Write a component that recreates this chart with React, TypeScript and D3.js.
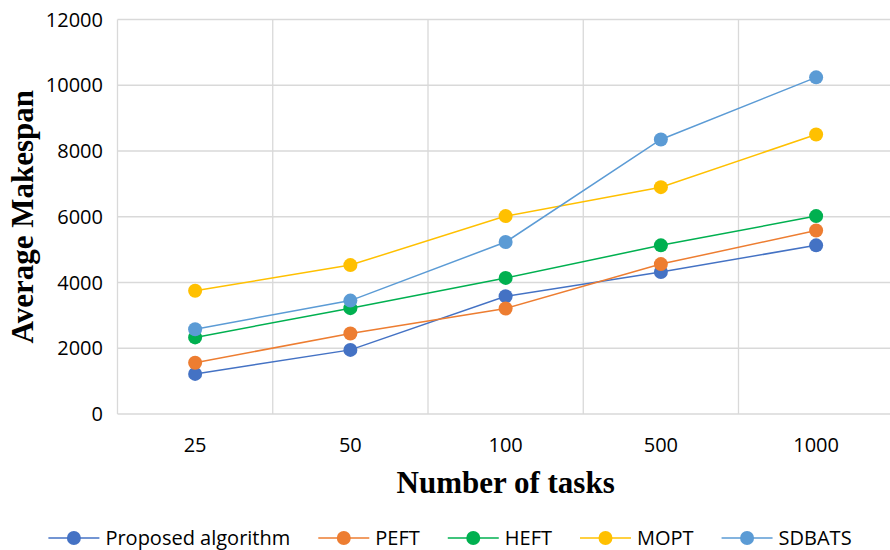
import React, { useEffect, useRef } from "react";
import * as d3 from "d3";

// Number of tasks per workload
const categories = ["25", "50", "100", "500", "1000"];

// Average makespan per algorithm
const proposed = [1220, 1950, 3580, 4320, 5130];
const peft = [1560, 2450, 3210, 4560, 5580];
const heft = [2330, 3220, 4140, 5130, 6020];
const mopt = [3750, 4530, 6020, 6900, 8500];
const sdbats = [2580, 3450, 5230, 8350, 10240];

const seriesNames = ["Proposed algorithm", "PEFT", "HEFT", "MOPT", "SDBATS"];
const seriesValues = [proposed, peft, heft, mopt, sdbats];
const seriesColors = ["#4472C4", "#ED7D31", "#00B050", "#FFC000", "#5B9BD5"];

const yTicks = [0, 2000, 4000, 6000, 8000, 10000, 12000];

const W = 890;
const H = 550;
const plot = { left: 117.5, right: 893.75, top: 19.5, bottom: 414 };
const sansFont = "'Open Sans', sans-serif";
const serifFont = "'Liberation Serif', 'Times New Roman', serif";
const markerR = 7;

export default function App() {
  const ref = useRef<SVGSVGElement | null>(null);

  useEffect(() => {
    const svg = d3.select(ref.current);
    svg.selectAll("*").remove();

    const x = d3
      .scaleBand<string>()
      .domain(categories)
      .range([plot.left, plot.right]);
    const cx = (c: string) => (x(c) as number) + x.bandwidth() / 2;
    const y = d3.scaleLinear().domain([0, 12000]).range([plot.bottom, plot.top]);

    const grid = svg.append("g");
    // horizontal gridlines
    grid
      .selectAll("line.h")
      .data(yTicks)
      .join("line")
      .attr("x1", plot.left)
      .attr("x2", plot.right)
      .attr("y1", (d) => y(d))
      .attr("y2", (d) => y(d))
      .attr("stroke", "#d9d9d9")
      .attr("stroke-width", 1.3);
    // vertical gridlines at category boundaries
    grid
      .selectAll("line.v")
      .data(categories)
      .join("line")
      .attr("x1", (d) => x(d) as number)
      .attr("x2", (d) => x(d) as number)
      .attr("y1", plot.top)
      .attr("y2", plot.bottom)
      .attr("stroke", "#d9d9d9")
      .attr("stroke-width", 1.3);

    // y tick labels
    svg
      .append("g")
      .selectAll("text")
      .data(yTicks)
      .join("text")
      .attr("x", 103)
      .attr("y", (d) => y(d) + 7)
      .attr("text-anchor", "end")
      .attr("font-family", sansFont)
      .attr("font-size", 20)
      .attr("fill", "#000")
      .text((d) => String(d));

    // x tick labels
    svg
      .append("g")
      .selectAll("text")
      .data(categories)
      .join("text")
      .attr("x", (d) => cx(d))
      .attr("y", 452)
      .attr("text-anchor", "middle")
      .attr("font-family", sansFont)
      .attr("font-size", 20)
      .attr("fill", "#000")
      .text((d) => d);

    // axis titles
    svg
      .append("text")
      .attr("x", (plot.left + plot.right) / 2)
      .attr("y", 493)
      .attr("text-anchor", "middle")
      .attr("font-family", serifFont)
      .attr("font-weight", "bold")
      .attr("font-size", 31)
      .text("Number of tasks");

    svg
      .append("text")
      .attr("transform", `translate(33,${(plot.top + plot.bottom) / 2}) rotate(-90)`)
      .attr("text-anchor", "middle")
      .attr("font-family", serifFont)
      .attr("font-weight", "bold")
      .attr("font-size", 31)
      .text("Average Makespan");

    // series lines and markers
    const line = d3
      .line<number>()
      .x((_, i) => cx(categories[i]))
      .y((d) => y(d));

    seriesValues.forEach((vals, si) => {
      const g = svg.append("g");
      g.append("path")
        .attr("d", line(vals) as string)
        .attr("fill", "none")
        .attr("stroke", seriesColors[si])
        .attr("stroke-width", 1.5);
      g.selectAll("circle")
        .data(vals)
        .join("circle")
        .attr("cx", (_, i) => cx(categories[i]))
        .attr("cy", (d) => y(d))
        .attr("r", markerR)
        .attr("fill", seriesColors[si]);
    });

    // legend, laid out from measured label widths
    const legendY = 538;
    const lineLen = 51;
    const textGap = 6;
    const itemGap = 28;
    const legend = svg.append("g");
    const items = seriesNames.map((name, i) => {
      const g = legend.append("g");
      g.append("line")
        .attr("x1", 0)
        .attr("x2", lineLen)
        .attr("y1", legendY)
        .attr("y2", legendY)
        .attr("stroke", seriesColors[i])
        .attr("stroke-width", 1.5);
      g.append("circle")
        .attr("cx", lineLen / 2)
        .attr("cy", legendY)
        .attr("r", markerR)
        .attr("fill", seriesColors[i]);
      const t = g
        .append("text")
        .attr("x", lineLen + textGap)
        .attr("y", legendY + 7)
        .attr("font-family", sansFont)
        .attr("font-size", 20)
        .attr("fill", "#000")
        .text(name);
      const w = (t.node() as SVGTextElement).getComputedTextLength();
      return { g, width: lineLen + textGap + w };
    });
    const total =
      d3.sum(items, (d) => d.width) + itemGap * (items.length - 1);
    let pos = 450 - total / 2;
    items.forEach((it) => {
      it.g.attr("transform", `translate(${pos},0)`);
      pos += it.width + itemGap;
    });
  }, []);

  return (
    <svg
      ref={ref}
      width={W}
      height={H}
      style={{ position: "absolute", left: 0, top: 0, background: "#fff" }}
    />
  );
}
